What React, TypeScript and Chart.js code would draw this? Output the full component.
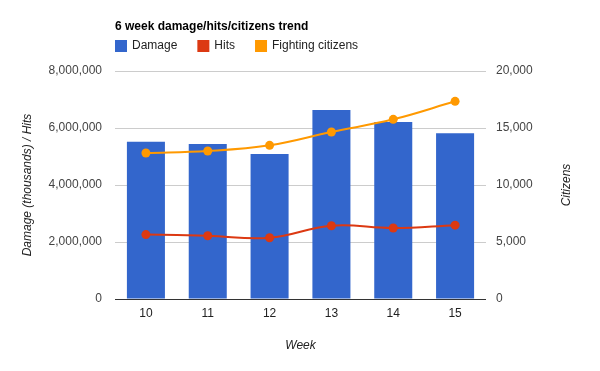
import React, { useEffect, useRef } from "react";
import { Chart, registerables } from "chart.js";

Chart.register(...registerables);

const weeks = ["10", "11", "12", "13", "14", "15"];
const damage = [5520000, 5440000, 5090000, 6630000, 6210000, 5820000];
const hits = [2260000, 2220000, 2150000, 2570000, 2490000, 2590000];
const citizens = [12810, 12980, 13480, 14650, 15760, 17340];

const leftTicks = [0, 2000000, 4000000, 6000000, 8000000];
const rightTicks = [0, 5000, 10000, 15000, 20000];

const FONT = "'Liberation Sans', Arial, sans-serif";
const BLUE = "#3366cc";
const RED = "#dc3912";
const ORANGE = "#ff9900";

const fmt = (v: number) => Number(v).toLocaleString("en-US");

const legendPlugin = {
  id: "gLegend",
  afterDraw(chart: any) {
    const ctx = chart.ctx;
    ctx.save();
    ctx.font = `12px ${FONT}`;
    ctx.textBaseline = "middle";
    ctx.textAlign = "left";
    let x = chart.chartArea.left;
    const y = 40;
    chart.data.datasets.forEach((ds: any) => {
      ctx.fillStyle = ds.legendColor;
      ctx.fillRect(x, y, 12, 12);
      ctx.fillStyle = "#222222";
      ctx.fillText(ds.label, x + 17, y + 6);
      x += 17 + ctx.measureText(ds.label).width + 20;
    });
    // right axis title, rotated like the left one
    const s = chart.scales.y1;
    const ca = chart.chartArea;
    ctx.translate(s.right - 33, (ca.top + ca.bottom) / 2);
    ctx.rotate(-Math.PI / 2);
    ctx.font = `italic 12px ${FONT}`;
    ctx.textAlign = "center";
    ctx.fillStyle = "#222222";
    ctx.fillText("Citizens", 0, 0);
    ctx.restore();
  },
};

export default function App() {
  const ref = useRef<HTMLCanvasElement | null>(null);
  useEffect(() => {
    if (!ref.current) return;
    const chart = new Chart(ref.current, {
      type: "bar",
      data: {
        labels: weeks,
        datasets: [
          {
            type: "bar",
            label: "Damage",
            data: damage,
            backgroundColor: BLUE,
            legendColor: BLUE,
            yAxisID: "y",
            order: 3,
            barPercentage: 0.615,
            categoryPercentage: 1,
          } as any,
          {
            type: "line",
            label: "Hits",
            data: hits,
            borderColor: RED,
            backgroundColor: RED,
            legendColor: RED,
            pointBackgroundColor: RED,
            pointBorderWidth: 0,
            pointRadius: 4.5,
            borderWidth: 2,
            tension: 0.4,
            yAxisID: "y",
            order: 2,
          } as any,
          {
            type: "line",
            label: "Fighting citizens",
            data: citizens,
            borderColor: ORANGE,
            backgroundColor: ORANGE,
            legendColor: ORANGE,
            pointBackgroundColor: ORANGE,
            pointBorderWidth: 0,
            pointRadius: 4.5,
            borderWidth: 2,
            tension: 0.4,
            yAxisID: "y1",
            order: 1,
          } as any,
        ],
      },
      options: {
        responsive: false,
        animation: false,
        layout: { padding: 0 },
        plugins: {
          legend: { display: false },
          tooltip: { enabled: false },
          title: {
            display: true,
            text: "6 week damage/hits/citizens trend",
            align: "start",
            fullSize: false,
            color: "#000000",
            font: { family: FONT, size: 12, weight: "bold" },
            padding: { top: 19.5, bottom: 37.1 },
          },
        },
        scales: {
          x: {
            grid: { display: false, drawTicks: false },
            border: { display: false },
            ticks: { color: "#222222", font: { family: FONT, size: 12 }, padding: 7 },
            title: {
              display: true,
              text: "Week",
              color: "#222222",
              font: { family: FONT, size: 12, style: "italic" },
              padding: { top: 0, bottom: 18 },
            },
            afterFit: (s: any) => {
              s.height = 72;
            },
          },
          y: {
            position: "left",
            min: 0,
            max: 8000000,
            afterBuildTicks: (s: any) => {
              s.ticks = leftTicks.map((v) => ({ value: v }));
            },
            grid: {
              drawTicks: false,
              color: (c: any) => (c.tick && c.tick.value === 0 ? "#333333" : "#cccccc"),
            },
            border: { display: false },
            ticks: {
              color: "#444444",
              font: { family: FONT, size: 12 },
              padding: 13,
              callback: (v: any) => fmt(v),
            },
            title: {
              display: true,
              text: "Damage (thousands) / Hits",
              color: "#222222",
              font: { family: FONT, size: 12, style: "italic" },
              padding: { top: 20, bottom: 0 },
            },
            afterFit: (s: any) => {
              s.width = 115;
            },
          },
          y1: {
            position: "right",
            min: 0,
            max: 20000,
            afterBuildTicks: (s: any) => {
              s.ticks = rightTicks.map((v) => ({ value: v }));
            },
            grid: { display: false, drawTicks: false },
            border: { display: false },
            ticks: {
              color: "#444444",
              font: { family: FONT, size: 12 },
              padding: 10,
              callback: (v: any) => fmt(v),
            },
            title: { display: false },
            afterFit: (s: any) => {
              s.width = 114;
            },
          },
        },
      } as any,
      plugins: [legendPlugin],
    });
    return () => chart.destroy();
  }, []);
  return (
    <div style={{ position: "absolute", left: 0, top: 0, width: 600, height: 371, background: "#ffffff" }}>
      <canvas ref={ref} width={600} height={371} style={{ display: "block" }} />
    </div>
  );
}
